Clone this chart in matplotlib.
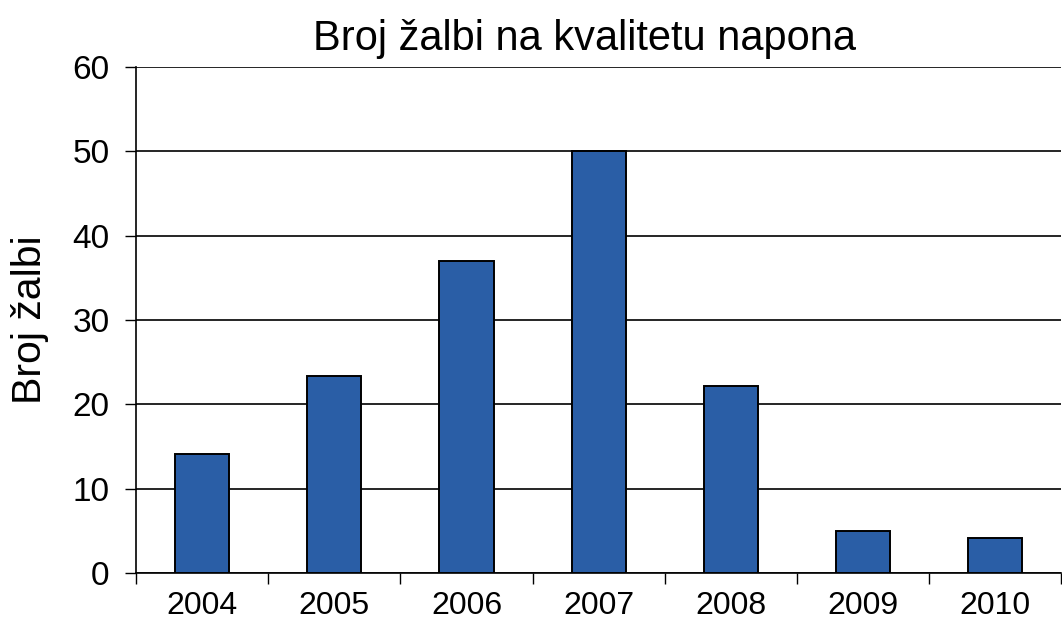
"""broj žalbi na kvalitetu napona po godinama."""

import matplotlib

matplotlib.use("Agg")
import matplotlib.pyplot as plt
import numpy as np

years = ["2004", "2005", "2006", "2007", "2008", "2009", "2010"]
complaints = [14.1, 23.3, 37, 50, 22.2, 5, 4.2]
y_ticks = [0, 10, 20, 30, 40, 50, 60]

BAR_COLOR = "#2A5EA6"

plt.rcParams["font.family"] = ["Liberation Sans", "DejaVu Sans"]

fig = plt.figure(figsize=(10.62, 6.21), dpi=100)
ax = fig.add_axes([0.128, 0.0773, 0.8715, 0.815])

x = np.arange(len(years))
ax.bar(x, complaints, width=0.41, color=BAR_COLOR, edgecolor="black",
       linewidth=1.4, zorder=3)

ax.set_xlim(-0.5, len(years) - 0.5)
ax.set_ylim(0, 60)
ax.set_yticks(y_ticks)
ax.yaxis.grid(True, color="black", linewidth=1.2, zorder=0)
ax.set_axisbelow(True)

# kategorije: oznake u sredini, crtice na granicama
ax.set_xticks(x)
ax.set_xticklabels(years)
ax.set_xticks(np.arange(len(years) + 1) - 0.5, minor=True)
ax.tick_params(axis="x", which="major", length=0, pad=13, labelsize=23)
ax.tick_params(axis="x", which="minor", length=8, width=1.0, direction="out")
ax.tick_params(axis="y", length=8, width=1.0, direction="out", pad=11,
               labelsize=24)

for side in ["top", "right"]:
    ax.spines[side].set_visible(False)
ax.spines["left"].set_linewidth(1.2)
ax.spines["bottom"].set_linewidth(1.2)

ax.set_ylabel("Broj žalbi", fontsize=29.5, labelpad=17)
ax.set_title("Broj žalbi na kvalitetu napona", fontsize=30, pad=12, x=0.485)

fig.savefig("out.png", dpi=100)
